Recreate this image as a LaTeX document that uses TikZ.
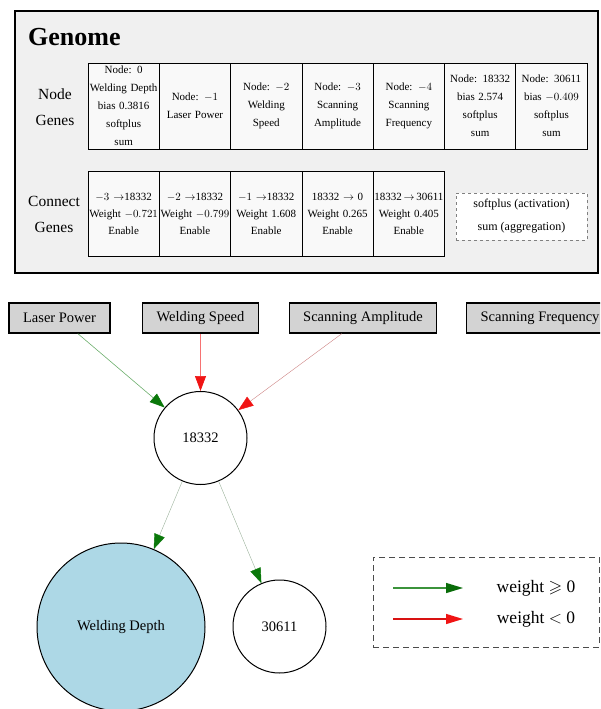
\documentclass[tikz,border=0pt]{standalone}
\usepackage{amssymb}
\usepackage{fontspec}
\setmainfont{Liberation Serif}
\usetikzlibrary{positioning,arrows.meta}
\definecolor{posgreen}{RGB}{10,120,10}
\definecolor{neg}{RGB}{240,20,20}
\definecolor{weakneg}{RGB}{205,130,130}
\definecolor{depthblue}{RGB}{173,216,230}
\definecolor{boxgray}{RGB}{211,211,211}

\begin{document}
\begin{tikzpicture}[x=1pt,y=-1pt,
  genome/.style={draw,line width=1.2pt,fill=gray!12,minimum width=583pt,minimum height=262pt},
  cell/.style={draw,line width=0.8pt,fill=gray!5,outer sep=0pt,inner xsep=1pt,inner ysep=0pt,text width=69.3pt,minimum height=86pt,align=center,font=\fontsize{11}{18}\selectfont},
  ccell/.style={cell,minimum height=85pt,font=\fontsize{11}{17}\selectfont},
  rowlabel/.style={align=center,font=\fontsize{15.5}{26}\selectfont},
  actbox/.style={draw=gray,dashed,line width=0.8pt,fill=white,minimum width=131pt,minimum height=47pt,align=center,font=\fontsize{12}{23}\selectfont},
  inbox/.style={draw,line width=1.3pt,fill=boxgray,minimum height=30pt,inner xsep=14pt,font=\fontsize{14.5}{17}\selectfont},
  hidden/.style={draw,circle,line width=1pt,minimum size=93pt,inner sep=0pt,font=\fontsize{14.5}{17}\selectfont},
  posedge/.style={-{Triangle[length=15pt,width=11pt,color=posgreen]},draw=posgreen!60,line width=0.6pt},
  negedge/.style={-{Triangle[length=15pt,width=11pt,color=neg]},draw=neg!60,line width=0.7pt},
  legend/.style={draw=black!70,line width=1pt,dash pattern=on 6pt off 4pt,minimum width=226pt,minimum height=90pt},
  legtext/.style={font=\fontsize{17.5}{20}\selectfont}]
  \clip (0,0) rectangle (600,709);
  \node[genome] (genome) at (306.5,142) {};
  \node[anchor=west,inner sep=0pt,font=\fontsize{26}{30}\bfseries\selectfont] (title) at (28,37) {Genome};
  \node[rowlabel] (nglabel) at (55,107) {Node\\Genes};
  \node[rowlabel] (cglabel) at (54,214) {Connect\\Genes};
  \node[cell,anchor=north west] (ng0) at (88,63) {Node: 0\\Welding Depth\\bias 0.3816\\softplus\\sum};
  \node[cell,right=0pt of ng0] (ng1) {Node: $-1$\\Laser Power};
  \node[cell,right=0pt of ng1] (ng2) {Node: $-2$\\Welding\\Speed};
  \node[cell,right=0pt of ng2] (ng3) {Node: $-3$\\Scanning\\Amplitude};
  \node[cell,right=0pt of ng3] (ng4) {Node: $-4$\\Scanning\\Frequency};
  \node[cell,right=0pt of ng4] (ng5) {Node: 18332\\bias 2.574\\softplus\\sum};
  \node[cell,right=0pt of ng5] (ng6) {Node: 30611\\bias $-0.409$\\softplus\\sum};
  \node[ccell,anchor=north west] (cg0) at (88,171) {$-3\rightarrow$18332\\Weight $-0.721$\\Enable};
  \node[ccell,right=0pt of cg0] (cg1) {$-2\rightarrow$18332\\Weight $-0.799$\\Enable};
  \node[ccell,right=0pt of cg1] (cg2) {$-1\rightarrow$18332\\Weight 1.608\\Enable};
  \node[ccell,right=0pt of cg2] (cg3) {18332 $\rightarrow$ 0\\Weight 0.265\\Enable};
  \node[ccell,right=0pt of cg3] (cg4) {\mbox{18332$\,\rightarrow\,$30611}\\Weight 0.405\\Enable};
  \node[actbox] (act) at (521.5,216.5) {softplus (activation)\\sum (aggregation)};

  \node[inbox] (lp) at (59.5,318) {Laser Power};
  \node[inbox] (ws) at (200.5,318) {Welding Speed};
  \node[inbox] (sa) at (363,318) {Scanning Amplitude};
  \node[inbox,anchor=west] (sf) at (466,318) {Scanning Frequency};
  \node[hidden] (h) at (200.5,438) {18332};
  \node[hidden,fill=depthblue,minimum size=168pt] (wd) at (121,627) {Welding Depth};
  \node[hidden] (o) at (279.5,626.5) {30611};
  \draw[posedge] (lp) -- (h);
  \draw[negedge] (ws) -- (h);
  \draw[negedge,draw=weakneg,line width=0.4pt] (sa) -- (h);
  \draw[posedge,draw=posgreen!35!gray!60,line width=0.4pt] (h) -- (wd);
  \draw[posedge,draw=posgreen!35!gray!60,line width=0.4pt] (h) -- (o);

  \node[legend] (leg) at (486,602) {};
  \coordinate (g1) at (393,588);
  \coordinate (g2) at (463,588);
  \coordinate (r1) at (393,619);
  \coordinate (r2) at (463,619);
  \draw[posgreen!80,line width=1.3pt,-{Triangle[length=17pt,width=10pt,color=posgreen!90!black]}] (g1) -- (g2);
  \draw[neg!90!black,line width=1.3pt,-{Triangle[length=17pt,width=10pt,color=neg]}] (r1) -- (r2);
  \node[legtext] (lpos) at (536,588) {weight $\geqslant$ 0};
  \node[legtext] (lneg) at (536,619) {weight $<$ 0};
\end{tikzpicture}
\end{document}
